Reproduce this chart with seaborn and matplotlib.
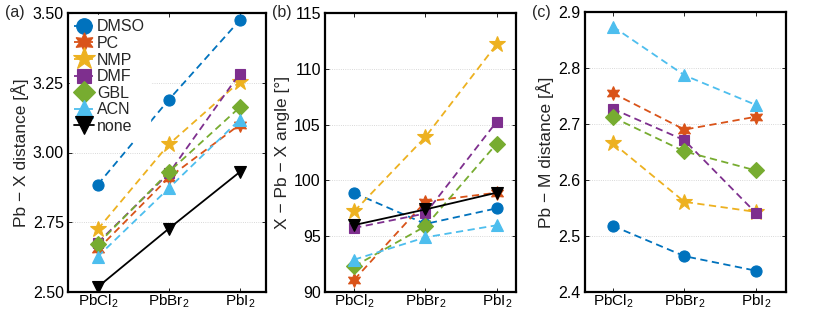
import numpy as np
import pandas as pd
import matplotlib
matplotlib.use("Agg")
import matplotlib.pyplot as plt
import seaborn as sns

sns.set_theme(style="ticks")
plt.rcParams['font.family'] = ['Liberation Sans', 'DejaVu Sans']
plt.rcParams['mathtext.fontset'] = 'custom'
plt.rcParams['mathtext.rm'] = 'Liberation Sans'
plt.rcParams['mathtext.it'] = 'Liberation Sans:italic'

compounds = ["PbCl$_2$", "PbBr$_2$", "PbI$_2$"]
solvents = ["DMSO", "PC", "NMP", "DMF", "GBL", "ACN", "none"]

# Panel (a): Pb - X distance [Å]
dist_px = {
    "DMSO": [2.885, 3.189, 3.474],
    "PC":   [2.653, 2.910, 3.100],
    "NMP":  [2.725, 3.029, 3.254],
    "DMF":  [2.677, 2.925, 3.283],
    "GBL":  [2.672, 2.930, 3.162],
    "ACN":  [2.627, 2.872, 3.118],
    "none": [2.518, 2.727, 2.930],
}
# Panel (b): X - Pb - X angle [°]
angle = {
    "DMSO": [98.87, 96.1, 97.5],
    "PC":   [91.1, 98.1, 98.9],
    "NMP":  [97.23, 103.9, 112.2],
    "DMF":  [95.74, 97.04, 105.27],
    "GBL":  [92.3, 95.9, 103.3],
    "ACN":  [92.9, 94.9, 95.98],
    "none": [96.0, 97.4, 98.9],
}
# Panel (c): Pb - M distance [Å]
dist_pm = {
    "DMSO": [2.518, 2.464, 2.438],
    "PC":   [2.755, 2.690, 2.713],
    "NMP":  [2.666, 2.561, 2.543],
    "DMF":  [2.727, 2.671, 2.541],
    "GBL":  [2.712, 2.651, 2.617],
    "ACN":  [2.874, 2.787, 2.734],
}

colors = {"DMSO": "#0072BD", "PC": "#D95319", "NMP": "#EDB120", "DMF": "#7E2F8E",
          "GBL": "#77AC30", "ACN": "#4DBEEE", "none": "#000000"}
markers = {"DMSO": "o", "PC": (6, 1, 0), "NMP": "*", "DMF": "s", "GBL": "D",
           "ACN": "^", "none": "v"}
msizes = {"DMSO": 8, "PC": 10, "NMP": 12, "DMF": 7, "GBL": 8, "ACN": 9, "none": 9}

fig = plt.figure(figsize=(8.31, 3.10), dpi=100)
positions = [
    [68/831, 1-292/310, (266-68)/831, (292-13)/310],
    [325/831, 1-292/310, (516-325)/831, (292-13)/310],
    [585/831, 1-292/310, (786-585)/831, (292-12)/310],
]
panels = [
    (dist_px, "Pb − X distance [Å]", (2.5, 3.5), [2.5, 2.75, 3.0, 3.25, 3.5], "{:.2f}", (-0.42, 2.37), "(a)"),
    (angle, "X − Pb − X angle [°]", (90, 115), [90, 95, 100, 105, 110, 115], "{:.0f}", (-0.41, 2.27), "(b)"),
    (dist_pm, "Pb − M distance [Å]", (2.4, 2.9), [2.4, 2.5, 2.6, 2.7, 2.8, 2.9], "{:.1f}", (-0.39, 2.42), "(c)"),
]

for i, (data, ylab, ylim, yticks, fmt, xlim, tag) in enumerate(panels):
    ax = fig.add_axes(positions[i])
    for s in solvents:
        if s not in data:
            continue
        df = pd.DataFrame({"x": np.arange(len(compounds)), "y": data[s]})
        sns.lineplot(data=df, x="x", y="y", ax=ax, color=colors[s],
                     linestyle="-" if s == "none" else (0, (4, 2.5)),
                     linewidth=1.3, marker=markers[s], markersize=msizes[s],
                     markeredgecolor=colors[s], markeredgewidth=0.8, label=s,
                     legend=False, zorder=3)
    ax.set_xlim(*xlim)
    ax.set_ylim(*ylim)
    ax.set_xticks(np.arange(len(compounds)))
    ax.set_xticklabels(compounds, fontsize=11)
    ax.set_yticks(yticks)
    ax.set_yticklabels([fmt.format(v) for v in yticks], fontsize=11.5)
    ax.set_xlabel("")
    ax.set_ylabel(ylab, fontsize=12.5, labelpad=3)
    ax.tick_params(direction="in", top=True, right=True, length=3, width=0.6,
                   pad=3, colors="black")
    ax.tick_params(axis="x", pad=0.5)
    ax.grid(axis="y", color="#cccccc", linestyle=":", linewidth=0.6, zorder=0)
    for sp in ax.spines.values():
        sp.set_linewidth(1.6)
        sp.set_color("black")
    fig.text(positions[i][0] - 0.076 if i == 0 else positions[i][0] - 0.064,
             positions[i][1] + positions[i][3], tag, fontsize=11.5,
             ha="left", va="center")
    if i == 0:
        leg = ax.legend(loc="upper left", frameon=True, fontsize=11.5,
                        handlelength=1.2, handletextpad=0.2, borderaxespad=0.1,
                        labelspacing=0.1, markerscale=1.4, borderpad=0.3)
        leg.get_frame().set_edgecolor("white")
        leg.get_frame().set_facecolor("white")
        leg.get_frame().set_alpha(1.0)
        leg.set_zorder(5)

fig.savefig("out.png", dpi=100)
